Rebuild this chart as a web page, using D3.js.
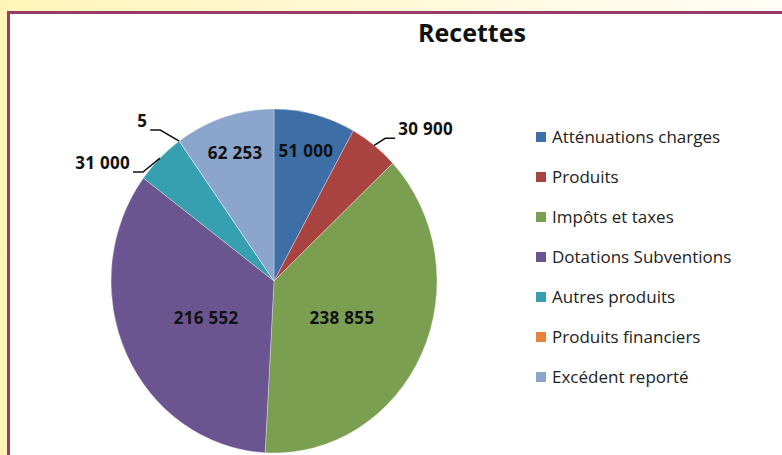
<!DOCTYPE html>
<html>
<head>
<meta charset="utf-8">
<script src="https://cdn.jsdelivr.net/npm/d3@7"></script>
<style>
	body { margin: 0; padding: 0; }
	text { font-family: 'Open Sans', sans-serif; }
</style>
</head>
<body>
<div id="chart"></div>
<script>
var categories = ['Atténuations charges', 'Produits', 'Impôts et taxes', 'Dotations Subventions', 'Autres produits', 'Produits financiers', 'Excédent reporté'];
var values = [51000, 30900, 238855, 216552, 31000, 5, 62253];
var valueLabels = ['51 000', '30 900', '238 855', '216 552', '31 000', '5', '62 253'];
var colors = ['#3d6ea6', '#a8433f', '#7b9f51', '#6a5590', '#36a0b0', '#e8813b', '#8ba5cc'];

var width = 782, height = 455;
var cx = 274, cy = 281, rx = 163, ry = 172;

var svg = d3.select('#chart').append('svg')
	.attr('width', width)
	.attr('height', height);

var defs = svg.append('defs');
var bg = defs.append('linearGradient').attr('id', 'bg');
bg.append('stop').attr('offset', '0%').attr('stop-color', '#fff4b8');
bg.append('stop').attr('offset', '100%').attr('stop-color', '#fffef6');

svg.append('rect')
	.attr('width', width)
	.attr('height', height)
	.attr('fill', 'url(#bg)');

// white panel with dark red border
svg.append('rect')
	.attr('x', 8.5)
	.attr('y', 12.5)
	.attr('width', width + 10)
	.attr('height', height + 10)
	.attr('fill', '#fff')
	.attr('stroke', '#9a3a66')
	.attr('stroke-width', 3);

svg.append('text')
	.attr('x', 472)
	.attr('y', 42)
	.attr('text-anchor', 'middle')
	.attr('font-size', 25)
	.attr('font-weight', 'bold')
	.attr('fill', '#111')
	.text('Recettes');

var pie = d3.pie().sort(null).value(function(d) { return d; });
var arcs = pie(values);

var arc = d3.arc().innerRadius(0).outerRadius(rx);

var pieG = svg.append('g')
	.attr('transform', 'translate(' + cx + ',' + cy + ') scale(1,' + (ry / rx) + ')');

pieG.selectAll('path')
	.data(arcs)
	.enter().append('path')
	.attr('d', arc)
	.attr('fill', function(d, i) { return colors[i]; })
	.attr('stroke', 'rgba(255,255,255,0.5)')
	.attr('stroke-width', 0.6);

function pointAt(angle, r) {
	return [cx + Math.sin(angle) * rx * r, cy - Math.cos(angle) * ry * r];
}

// small slices get their label outside with a leader line
var outside = { 1: [11, -7], 4: [-17, 14], 5: [-19, -11] };

var labelsG = svg.append('g');

arcs.forEach(function(d, i) {
	var mid = (d.startAngle + d.endAngle) / 2;
	var span = d.endAngle - d.startAngle;
	if (outside[i]) {
		var edge = pointAt(mid, 1);
		var elbow = [edge[0] + outside[i][0], edge[1] + outside[i][1]];
		var dir = outside[i][0] > 0 ? 1 : -1;
		var end = [elbow[0] + dir * 10, elbow[1]];
		labelsG.append('polyline')
			.attr('points', [edge, elbow, end].map(function(p) { return p.join(','); }).join(' '))
			.attr('fill', 'none')
			.attr('stroke', '#111')
			.attr('stroke-width', 1.5);
		labelsG.append('text')
			.attr('x', end[0] + dir * 3)
			.attr('y', end[1] - 3)
			.attr('text-anchor', dir > 0 ? 'start' : 'end')
			.attr('font-size', 17)
			.attr('letter-spacing', 0.3)
			.attr('font-weight', 'bold')
			.attr('fill', '#111')
			.text(valueLabels[i]);
	} else {
		var big = span > Math.PI / 3;
		var p = pointAt(mid, big ? 0.46 : 0.78);
		labelsG.append('text')
			.attr('x', p[0])
			.attr('y', p[1] + (big ? 4 : 0))
			.attr('dy', '0.35em')
			.attr('text-anchor', 'middle')
			.attr('font-size', 17)
			.attr('letter-spacing', 0.3)
			.attr('font-weight', 'bold')
			.attr('fill', '#111')
			.text(valueLabels[i]);
	}
});

var legendY = d3.scalePoint()
	.domain(categories)
	.range([137, 377]);

var legend = svg.append('g');

categories.forEach(function(c, i) {
	legend.append('rect')
		.attr('x', 536)
		.attr('y', legendY(c) - 5)
		.attr('width', 10)
		.attr('height', 10)
		.attr('fill', colors[i]);
	legend.append('text')
		.attr('x', 552)
		.attr('y', legendY(c))
		.attr('dy', '0.35em')
		.attr('font-size', 17)
		.attr('fill', '#222')
		.text(c);
});
</script>
</body>
</html>
